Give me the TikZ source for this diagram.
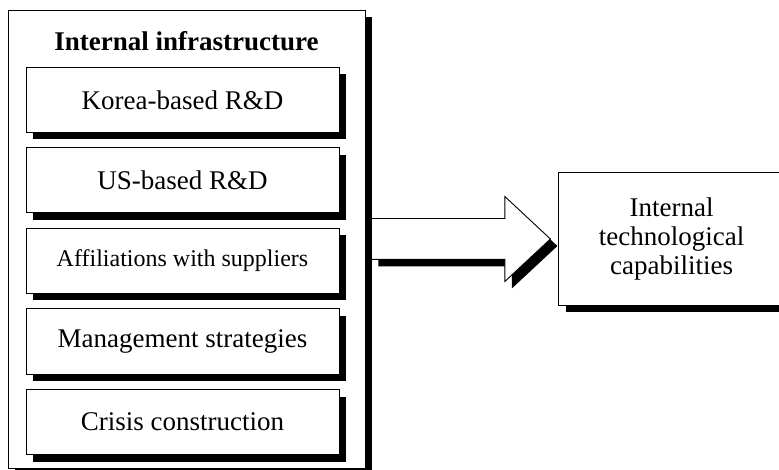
\documentclass[tikz,border=0pt]{standalone}
\usepackage{fontspec}
\setmainfont{Liberation Serif}
\usepackage{tikz}
\usetikzlibrary{positioning, chains, shapes.arrows, shadows}

\begin{document}
\begin{tikzpicture}[x=1pt,y=-1pt,
    shade/.style={drop shadow={shadow xshift=7pt,shadow yshift=-7pt,
      fill=black,opacity=1}},
    outer/.style={
      rectangle,
      draw,
      line width=0.9pt,
      fill=white,
      shade,
      minimum width=357pt,
      minimum height=458pt
    },
    item/.style={
      rectangle,
      draw,
      line width=1pt,
      fill=white,
      shade,
      minimum width=313pt,
      minimum height=65pt,
      inner sep=0pt
    },
    bigarrow/.style={
      single arrow,
      draw,
      line width=0.9pt,
      fill=white,
      shade,
      minimum height=179pt,
      inner xsep=0pt,
      inner ysep=20pt,
      single arrow head extend=22pt,
      single arrow tip angle=86
    },
    start chain=going below,
    node distance=14.5pt]
  \useasboundingbox (0,0) rectangle (779,470);
  \fontsize{27}{29}\selectfont
  \node[outer] (infra) at (186.5,239) {};
  \node[font=\bfseries] (title) at (186.5,41) {Internal infrastructure};
  \node[item,on chain] (korea) at (182.5,100) {Korea-based R\&D};
  \node[item,on chain] (us) {US-based R\&D};
  \node[item,on chain,font=\fontsize{24}{26}\selectfont] (supp) {Affiliations with suppliers};
  \node[item,on chain] (mgmt) {Management strategies};
  \node[item,on chain] (crisis) {Crisis construction};
  \node[bigarrow,anchor=tail] (flow) at ([xshift=5.5pt]infra.east) {};
  \node[rectangle,draw,line width=0.9pt,fill=white,shade,
    minimum width=226pt,minimum height=133pt,align=center,
    right=7pt of flow.tip] (cap) {Internal\\technological\\capabilities};
\end{tikzpicture}
\end{document}
